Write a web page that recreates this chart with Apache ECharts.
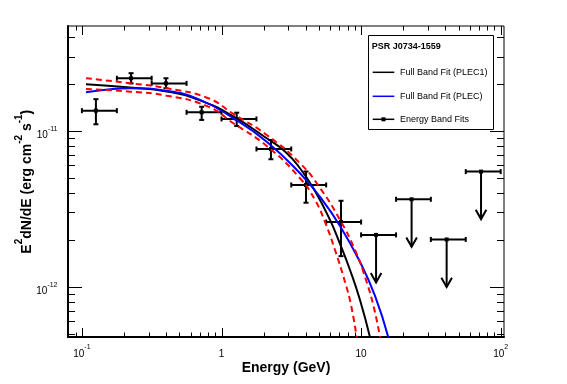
<!DOCTYPE html>
<html><head><meta charset="utf-8">
<script src="https://cdn.jsdelivr.net/npm/echarts@6/dist/echarts.min.js"></script>
<style>html,body{margin:0;padding:0;background:#fff}#c{width:567px;height:384px}</style>
</head><body><div id="c"></div>
<script>
// ---- curves ----
const plec1E = [0.107, 0.221, 0.405, 0.702, 1.215, 2.108, 2.85, 3.65, 4.675, 5.987, 7.062, 8.328, 9.82, 11.58];
const plec1F = [1.995e-11, 1.903e-11, 1.793e-11, 1.570e-11, 1.239e-11, 8.975e-12, 7.385e-12, 5.760e-12, 4.117e-12, 2.682e-12, 1.880e-12, 1.280e-12, 8.214e-13, 4.73e-13];
const plecE = [0.107, 0.154, 0.221, 0.405, 0.702, 1.215, 2.108, 3.65, 5.077, 7.062, 9.82, 12.58, 15.66];
const plecF = [1.772e-11, 1.847e-11, 1.880e-11, 1.807e-11, 1.582e-11, 1.207e-11, 8.536e-12, 5.349e-12, 3.768e-12, 2.454e-12, 1.441e-12, 8.717e-13, 4.73e-13];
const bandUpE = [0.107, 0.221, 0.405, 0.804, 1.215, 2.108, 3.65, 5.077, 7.062, 9.044, 10.84, 12.37, 13.66];
const bandUpF = [2.181e-11, 2.024e-11, 1.880e-11, 1.622e-11, 1.286e-11, 9.425e-12, 6.202e-12, 4.304e-12, 2.682e-12, 1.721e-12, 1.104e-12, 7.298e-13, 4.73e-13];
const bandLoE = [0.107, 0.221, 0.405, 0.804, 1.215, 2.108, 3.65, 4.675, 5.512, 6.502, 7.668, 8.467, 9.30];
const bandLoF = [1.861e-11, 1.788e-11, 1.685e-11, 1.432e-11, 1.121e-11, 8.009e-12, 4.969e-12, 3.604e-12, 2.603e-12, 1.721e-12, 1.072e-12, 7.630e-13, 4.73e-13];

// ---- energy band points ----
const pointE   = [0.126, 0.225, 0.40, 0.721, 1.285, 2.26, 4.03, 7.18];
const pointF   = [1.35e-11, 2.18e-11, 2.02e-11, 1.318e-11, 1.194e-11, 7.66e-12, 4.50e-12, 2.60e-12];
const pointELo = [0.1, 0.178, 0.316, 0.562, 1.0, 1.78, 3.16, 5.62];
const pointEHi = [0.178, 0.316, 0.562, 1.0, 1.78, 3.16, 5.62, 10.0];
const pointFLo = [1.104e-11, 2.02e-11, 1.88e-11, 1.177e-11, 1.077e-11, 6.58e-12, 3.46e-12, 1.57e-12];
const pointFHi = [1.60e-11, 2.35e-11, 2.18e-11, 1.43e-11, 1.31e-11, 8.75e-12, 5.49e-12, 3.56e-12];

// ---- upper limits ----
const ulE   = [12.8, 23.0, 41.0, 72.3];
const ulF   = [2.15e-12, 3.64e-12, 2.01e-12, 5.48e-12];
const ulELo = [10, 17.8, 31.6, 56.2];
const ulEHi = [17.8, 31.6, 56.2, 100];

// ---- axes ----
const xMin = 0.0795, xMax = 105.6;
const yMin = 4.75e-13, yMax = 4.72e-11;
const xMajorTicks = [0.1, 1, 10, 100];
const xMajorLabels = [['10', '-1'], ['1', ''], ['10', ''], ['10', '2']];
const xMinorTicks = [0.08, 0.09, 0.2, 0.3, 0.4, 0.5, 0.6, 0.7, 0.8, 0.9, 2, 3, 4, 5, 6, 7, 8, 9, 20, 30, 40, 50, 60, 70, 80, 90];
const yMajorTicks = [1e-12, 1e-11];
const yMajorLabels = [['10', '-12'], ['10', '-11']];
const yMinorTicks = [5e-13, 6e-13, 7e-13, 8e-13, 9e-13, 2e-12, 3e-12, 4e-12, 5e-12, 6e-12, 7e-12, 8e-12, 9e-12, 2e-11, 3e-11, 4e-11];
const xTitle = 'Energy (GeV)';
const yTitleParts = [['E', ''], ['2', 's'], ['dN/dE (erg cm', ''], ['-2', 's'], [' s', ''], ['-1', 's'], [')', '']];
const legendTitle = 'PSR J0734-1559';
const legendLabels = ['Full Band Fit (PLEC1)', 'Full Band Fit (PLEC)', 'Energy Band Fits'];

const FF = '"Liberation Sans", Arial, Helvetica, sans-serif';
const pair = (a, b) => a.map((v, i) => [v, b[i]]);

const tickData = [];
xMajorTicks.forEach((v, i) => tickData.push([v, 1e-12, 0, i]));
xMinorTicks.forEach(v => tickData.push([v, 1e-12, 1, -1]));
yMajorTicks.forEach((v, i) => tickData.push([1, v, 2, i]));
yMinorTicks.forEach(v => tickData.push([1, v, 3, -1]));

const labRich = {
  b: { font: '10px ' + FF, lineHeight: 15, verticalAlign: 'bottom', fill: '#000' },
  s: { font: '7px ' + FF, lineHeight: 7, verticalAlign: 'top', fill: '#000' }
};
function labText(l) { return '{b|' + l[0] + '}' + (l[1] ? '{s|' + l[1] + '}' : ''); }

function tickRender(params, api) {
  const cs = params.coordSys;
  const kind = api.value(2), idx = api.value(3);
  const p = api.coord([api.value(0), api.value(1)]);
  const st = { stroke: '#000', lineWidth: 1 };
  const ch = [];
  if (kind < 2) {
    const len = kind === 0 ? 9 : 4.5;
    const x = Math.round(p[0]) + 0.5;
    const yb = cs.y + cs.height, yt = cs.y;
    ch.push({ type: 'line', shape: { x1: x, y1: yb, x2: x, y2: yb - len }, style: st });
    ch.push({ type: 'line', shape: { x1: x, y1: yt, x2: x, y2: yt + len }, style: st });
    if (kind === 0) {
      ch.push({ type: 'text', x: p[0], y: 351.5, style: { text: labText(xMajorLabels[idx]), rich: labRich, align: 'center', verticalAlign: 'middle', font: '10px ' + FF, fill: '#000' } });
    }
  } else {
    const len = kind === 2 ? 14 : 7;
    const y = Math.round(p[1]) + 0.5;
    const xl = cs.x, xr = cs.x + cs.width;
    ch.push({ type: 'line', shape: { x1: xl, y1: y, x2: xl + len, y2: y }, style: st });
    ch.push({ type: 'line', shape: { x1: xr, y1: y, x2: xr - len, y2: y }, style: st });
    if (kind === 2) {
      ch.push({ type: 'text', x: 57.5, y: p[1] + 2, style: { text: labText(yMajorLabels[idx]), rich: labRich, align: 'right', verticalAlign: 'middle', font: '10px ' + FF, fill: '#000' } });
    }
  }
  return { type: 'group', children: ch };
}

function errRender(params, api) {
  const E = api.value(0), F = api.value(1);
  const c = api.coord([E, F]);
  const l = api.coord([api.value(2), F]);
  const r = api.coord([api.value(3), F]);
  const lo = api.coord([E, api.value(4)]);
  const hi = api.coord([E, api.value(5)]);
  const st = { stroke: '#000', lineWidth: 2 };
  const cap = 2.5;
  return { type: 'group', children: [
    { type: 'line', shape: { x1: l[0], y1: c[1], x2: r[0], y2: c[1] }, style: st },
    { type: 'line', shape: { x1: c[0], y1: lo[1], x2: c[0], y2: hi[1] }, style: st },
    { type: 'line', shape: { x1: l[0], y1: c[1] - cap, x2: l[0], y2: c[1] + cap }, style: st },
    { type: 'line', shape: { x1: r[0], y1: c[1] - cap, x2: r[0], y2: c[1] + cap }, style: st },
    { type: 'line', shape: { x1: c[0] - cap, y1: lo[1], x2: c[0] + cap, y2: lo[1] }, style: st },
    { type: 'line', shape: { x1: c[0] - cap, y1: hi[1], x2: c[0] + cap, y2: hi[1] }, style: st },
    { type: 'rect', shape: { x: c[0] - 2, y: c[1] - 2, width: 4, height: 4 }, style: { fill: '#000' } }
  ] };
}

function ulRender(params, api) {
  const E = api.value(0), F = api.value(1);
  const c = api.coord([E, F]);
  const l = api.coord([api.value(2), F]);
  const r = api.coord([api.value(3), F]);
  const st = { stroke: '#000', lineWidth: 2, fill: null };
  const cap = 2.5, arrowLen = 47.5, hw = 5.3, hh = 9.3;
  const tip = c[1] + arrowLen;
  return { type: 'group', children: [
    { type: 'line', shape: { x1: l[0], y1: c[1], x2: r[0], y2: c[1] }, style: st },
    { type: 'line', shape: { x1: l[0], y1: c[1] - cap, x2: l[0], y2: c[1] + cap }, style: st },
    { type: 'line', shape: { x1: r[0], y1: c[1] - cap, x2: r[0], y2: c[1] + cap }, style: st },
    { type: 'line', shape: { x1: c[0], y1: c[1], x2: c[0], y2: tip }, style: st },
    { type: 'polyline', shape: { points: [[c[0] - hw, tip - hh], [c[0], tip], [c[0] + hw, tip - hh]] }, style: st },
    { type: 'rect', shape: { x: c[0] - 2, y: c[1] - 2, width: 4, height: 4 }, style: { fill: '#000' } }
  ] };
}

const yTitleText = yTitleParts.map(p => '{' + (p[1] || 'b') + '|' + p[0] + '}').join('');

const chart = echarts.init(document.getElementById('c'), null, { renderer: 'canvas' });
chart.setOption({
  animation: false,
  backgroundColor: '#fff',
  grid: { left: 68, top: 26, width: 436, height: 311, show: true, borderColor: '#000', borderWidth: 1, backgroundColor: 'transparent', containLabel: false },
  xAxis: { type: 'log', logBase: 10, min: xMin, max: xMax,
    axisLine: { show: true, onZero: false, lineStyle: { color: '#000', width: 2 } },
    axisTick: { show: false }, axisLabel: { show: false }, splitLine: { show: false }, minorTick: { show: false } },
  yAxis: { type: 'log', logBase: 10, min: yMin, max: yMax,
    axisLine: { show: true, onZero: false, lineStyle: { color: '#000', width: 2 } },
    axisTick: { show: false }, axisLabel: { show: false }, splitLine: { show: false }, minorTick: { show: false } },
  series: [
    { type: 'custom', renderItem: tickRender, data: tickData, encode: { x: 0, y: 1 }, z: 5, silent: true },
    { type: 'custom', renderItem: errRender, data: pointE.map((e, i) => [e, pointF[i], pointELo[i], pointEHi[i], pointFLo[i], pointFHi[i]]), encode: { x: 0, y: 1 }, z: 2, silent: true },
    { type: 'custom', renderItem: ulRender, data: ulE.map((e, i) => [e, ulF[i], ulELo[i], ulEHi[i]]), encode: { x: 0, y: 1 }, z: 2, silent: true },
    { type: 'line', data: pair(plec1E, plec1F), showSymbol: false, smooth: true, lineStyle: { color: '#000', width: 2 }, z: 3, silent: true },
    { type: 'line', data: pair(plecE, plecF), showSymbol: false, smooth: true, lineStyle: { color: '#0000ff', width: 2 }, z: 3, silent: true },
    { type: 'line', data: pair(bandUpE, bandUpF), showSymbol: false, smooth: true, lineStyle: { color: '#ff0000', width: 2, type: [6, 4] }, z: 4, silent: true },
    { type: 'line', data: pair(bandLoE, bandLoF), showSymbol: false, smooth: true, lineStyle: { color: '#ff0000', width: 2, type: [6, 4] }, z: 4, silent: true }
  ],
  graphic: [
    { type: 'text', x: 286, y: 368.3, style: { text: xTitle, font: 'bold 14px ' + FF, fill: '#000', align: 'center', verticalAlign: 'middle' } },
    { type: 'text', x: 24.3, y: 181.7, rotation: Math.PI / 2, style: { text: yTitleText, font: 'bold 14px ' + FF, fill: '#000', align: 'center', verticalAlign: 'middle',
        rich: { b: { font: 'bold 14px ' + FF, lineHeight: 20, verticalAlign: 'bottom', fill: '#000' }, s: { font: 'bold 10px ' + FF, lineHeight: 10, verticalAlign: 'top', fill: '#000' } } } },
    { type: 'rect', z: 100, shape: { x: 368.5, y: 35.5, width: 125, height: 94 }, style: { fill: '#fff', stroke: '#000', lineWidth: 1 } },
    { type: 'text', z: 101, x: 371.7, y: 46.5, style: { text: legendTitle, font: 'bold 9px ' + FF, fill: '#000', align: 'left', verticalAlign: 'middle' } },
    { type: 'line', z: 101, shape: { x1: 372.7, y1: 72.3, x2: 394.3, y2: 72.3 }, style: { stroke: '#000', lineWidth: 1.5 } },
    { type: 'text', z: 101, x: 400, y: 72.3, style: { text: legendLabels[0], font: '9px ' + FF, fill: '#000', align: 'left', verticalAlign: 'middle' } },
    { type: 'line', z: 101, shape: { x1: 372.7, y1: 96.3, x2: 394.3, y2: 96.3 }, style: { stroke: '#0000ff', lineWidth: 1.5 } },
    { type: 'text', z: 101, x: 400, y: 96.3, style: { text: legendLabels[1], font: '9px ' + FF, fill: '#000', align: 'left', verticalAlign: 'middle' } },
    { type: 'line', z: 101, shape: { x1: 372.7, y1: 119.3, x2: 394.3, y2: 119.3 }, style: { stroke: '#000', lineWidth: 1.5 } },
    { type: 'rect', z: 101, shape: { x: 381.5, y: 117.3, width: 4, height: 4 }, style: { fill: '#000' } },
    { type: 'text', z: 101, x: 400, y: 119.3, style: { text: legendLabels[2], font: '9px ' + FF, fill: '#000', align: 'left', verticalAlign: 'middle' } }
  ]
});
</script></body></html>
